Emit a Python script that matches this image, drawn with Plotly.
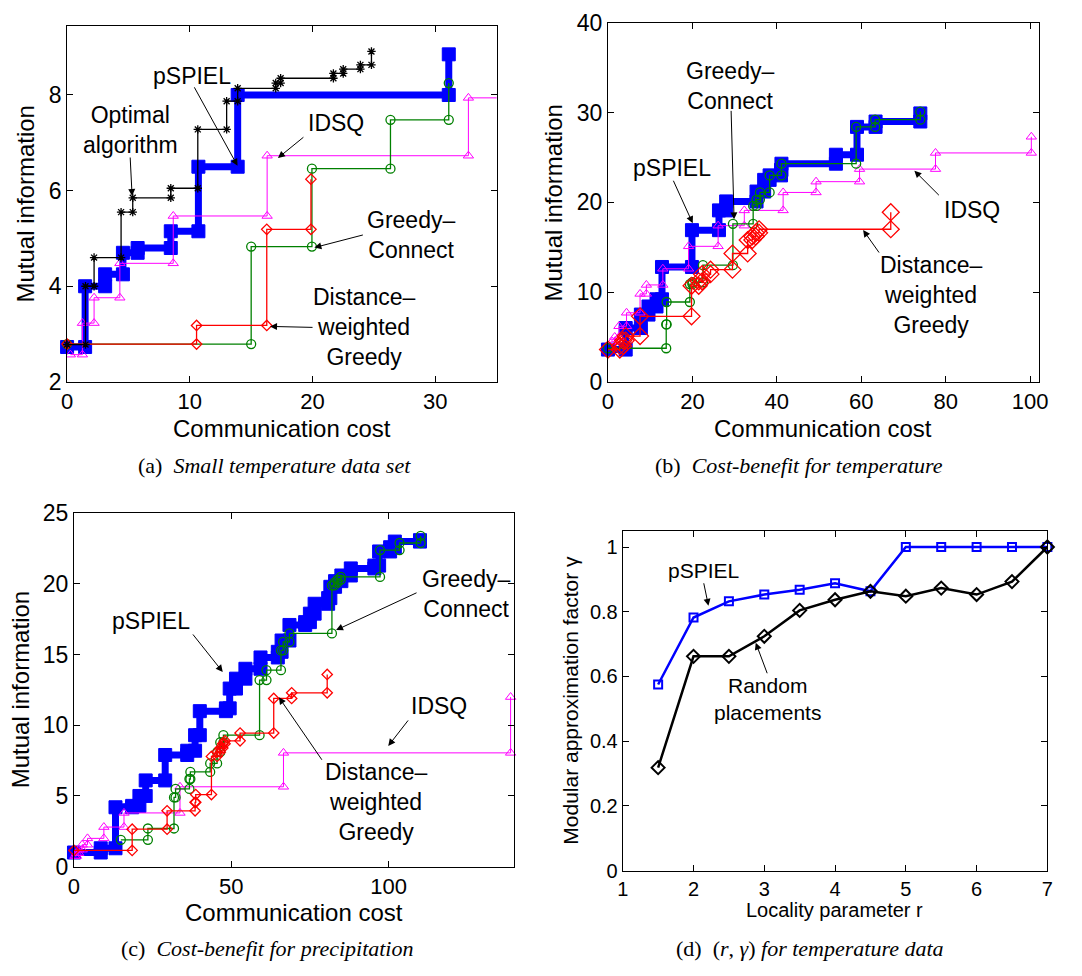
import plotly.graph_objects as go

W, H = 1082, 976

# ---------------- Panel (a): small temperature data set ----------------
a_opt_cost = [0, 1.5, 2.2, 4.4, 5.35, 8.45, 10.65, 13.0, 13.9, 17.0, 17.4, 21.7, 22.5, 23.9, 24.8]
a_opt_mi = [2.78, 4.0, 4.6, 5.55, 5.85, 6.05, 7.28, 7.87, 8.14, 8.25, 8.35, 8.45, 8.54, 8.63, 8.91]
a_psp_cost = [0, 1.47, 3.1, 4.55, 5.75, 8.45, 10.7, 13.9, 31.1]
a_psp_mi = [2.73, 4.0, 4.25, 4.7, 4.8, 5.15, 6.5, 8.0, 8.85]
a_idsq_cost = [0.27, 1.25, 2.2, 4.3, 8.65, 16.3, 32.7, 37.5]
a_idsq_mi = [2.57, 3.23, 3.76, 4.48, 5.47, 6.73, 7.94, 8.4]
a_gc_cost = [0, 15.0, 19.95, 26.35, 31.1]
a_gc_mi = [2.79, 4.83, 6.46, 7.48, 8.25]
a_dw_cost = [0, 10.55, 16.27, 19.87]
a_dw_mi = [2.79, 3.18, 5.19, 6.24]

# ---------------- Panel (b): cost-benefit for temperature ----------------
b_psp_cost = [0, 4.2, 7.8, 9.6, 11.5, 12.8, 19.9, 26.3, 28.0, 35.2, 37.0, 38.3, 41.0, 41.1, 54.0, 59.0, 63.4, 74.0]
b_psp_mi = [3.6, 6.0, 7.5, 8.4, 9.2, 12.8, 16.9, 19.1, 20.1, 21.2, 22.5, 23.0, 23.6, 24.3, 25.3, 28.4, 29.0, 29.9]
b_gc_cost = [0, 13.8, 13.9, 19.4, 20.0, 22.5, 29.6, 34.4, 35.2, 36.0, 38.3, 41.1, 58.8, 63.3, 74.0]
b_gc_mi = [3.75, 6.4, 8.9, 10.9, 11.1, 13.0, 17.6, 19.6, 20.3, 21.1, 23.0, 24.3, 28.4, 29.2, 30.1]
b_idsq_cost = [1.0, 1.6, 2.6, 4.4, 7.6, 9.1, 13.0, 19.1, 26.1, 32.3, 41.5, 49.3, 59.6, 77.6, 100.3]
b_idsq_mi = [4.5, 5.0, 6.2, 7.7, 9.8, 10.8, 12.6, 15.1, 17.4, 19.1, 21.1, 22.3, 23.7, 25.5, 27.3]
b_dw_cost = [0, 2.8, 3.6, 4.2, 7.6, 19.8, 21.5, 22.3, 24.3, 29.5, 33.1, 34.2, 35.0, 35.8, 67.0]
b_dw_mi = [3.6, 4.0, 4.6, 5.1, 7.3, 10.7, 11.2, 12.0, 12.5, 14.3, 15.8, 16.2, 16.6, 17.0, 18.9]

# ---------------- Panel (c): cost-benefit for precipitation ----------------
c_psp_cost = [0, 8.5, 13.2, 18.5, 20.8, 22.8, 29.0, 36.0, 38.5, 40.0, 48.3, 49.5, 51.5, 54.5, 59.3,
              64.8, 66.0, 68.5, 73.5, 75.0, 76.5, 80.8, 81.5, 83.0, 85.0, 88.0, 95.5, 97.0, 100.5, 102.0, 110.0]
c_psp_mi = [1.0, 1.3, 4.2, 4.3, 5.0, 6.1, 7.9, 8.2, 9.3, 11.0, 11.2, 12.6, 13.3, 14.0, 14.8,
            15.2, 16.0, 17.1, 17.3, 17.9, 18.6, 19.0, 19.8, 20.2, 20.6, 21.1, 21.3, 22.3, 22.6, 23.0, 23.1]
c_gc_cost = [14.9, 23.5, 31.8, 32.3, 36.7, 37.0, 43.3, 45.5, 46.5, 47.5, 59.0, 61.2, 65.8, 66.5, 68.5,
             82.0, 82.8, 83.8, 84.8, 97.3, 103.5, 110.2]
c_gc_mi = [1.9, 2.7, 4.9, 5.5, 6.2, 6.7, 7.3, 8.1, 8.8, 9.3, 13.2, 13.9, 15.3, 15.9, 16.5,
           19.9, 20.1, 20.3, 20.5, 22.4, 22.9, 23.4]
c_idsq_cost = [0.3, 0.8, 1.5, 2.6, 4.3, 9.5, 15.9, 33.7, 66.6, 138.8]
c_idsq_mi = [0.75, 0.95, 1.2, 1.55, 2.0, 2.8, 3.8, 5.65, 8.05, 12.0]
c_dw_cost = [0, 18.5, 29.6, 38.5, 38.7, 43.7, 45.5, 46.5, 47.3, 48.0, 52.8, 63.5, 69.2, 80.5]
c_dw_mi = [1.15, 2.65, 3.95, 4.55, 5.1, 7.8, 8.1, 8.4, 8.7, 8.9, 9.45, 11.9, 12.3, 13.6]

# ---------------- Panel (d): (r, gamma) ----------------
d_r = [1.5, 2, 2.5, 3, 3.5, 4, 4.5, 5, 5.5, 6, 6.5, 7]
d_pspiel = [0.575, 0.782, 0.832, 0.853, 0.868, 0.888, 0.863, 1.0, 1.0, 1.0, 1.0, 1.0]
d_random = [0.318, 0.662, 0.662, 0.724, 0.804, 0.837, 0.863, 0.848, 0.873, 0.853, 0.893, 1.0]

BLUE = "rgb(0,0,255)"
MAG = "rgb(255,0,255)"
GREEN = "rgb(0,128,0)"
RED = "rgb(255,0,0)"
SANS = "Liberation Sans"
SERIF = "Liberation Serif"


def stairs(cost, mi):
    xs, ys = [cost[0]], [mi[0]]
    for i in range(1, len(cost)):
        xs += [cost[i], cost[i]]
        ys += [mi[i - 1], mi[i]]
    return xs, ys


fig = go.Figure()


def add_stairs(cost, mi, ax, color, lw, symbol, msize, mlw, clip=False):
    xs, ys = stairs(cost, mi)
    fig.add_trace(go.Scatter(
        x=xs, y=ys, mode="lines+markers", xaxis="x" + ax, yaxis="y" + ax,
        line=dict(color=color, width=lw),
        marker=dict(symbol=symbol, size=msize, color=color,
                    line=dict(color=color, width=mlw)),
        cliponaxis=clip, showlegend=False, hoverinfo="skip"))


# panel a
add_stairs(a_psp_cost, a_psp_mi, "", BLUE, 7, "square", 13, 1)
add_stairs(a_idsq_cost, a_idsq_mi, "", MAG, 1, "triangle-up-open", 9, 1, clip=True)
add_stairs(a_gc_cost, a_gc_mi, "", GREEN, 1.3, "circle-open", 9, 1.3)
add_stairs(a_dw_cost, a_dw_mi, "", RED, 1.3, "diamond-open", 8, 1.3)
add_stairs(a_opt_cost, a_opt_mi, "", "black", 1.3, "asterisk-open", 7, 1.3)
# panel b
add_stairs(b_psp_cost, b_psp_mi, "2", BLUE, 7, "square", 13, 1)
add_stairs(b_idsq_cost, b_idsq_mi, "2", MAG, 1, "triangle-up-open", 9, 1)
add_stairs(b_gc_cost, b_gc_mi, "2", GREEN, 1.3, "circle-open", 9, 1.3)
add_stairs(b_dw_cost, b_dw_mi, "2", RED, 1.3, "diamond-open", 13, 1.3)
# panel c
add_stairs(c_psp_cost, c_psp_mi, "3", BLUE, 7, "square", 13, 1)
add_stairs(c_idsq_cost, c_idsq_mi, "3", MAG, 1, "triangle-up-open", 9, 1)
add_stairs(c_gc_cost, c_gc_mi, "3", GREEN, 1.3, "circle-open", 9, 1.3)
add_stairs(c_dw_cost, c_dw_mi, "3", RED, 1.3, "diamond-open", 8, 1.3)
# panel d
fig.add_trace(go.Scatter(x=d_r, y=d_pspiel, mode="lines+markers", xaxis="x4", yaxis="y4",
                         line=dict(color=BLUE, width=2.5),
                         marker=dict(symbol="square-open", size=8, color=BLUE, line=dict(width=2)),
                         cliponaxis=False, showlegend=False))
fig.add_trace(go.Scatter(x=d_r, y=d_random, mode="lines+markers", xaxis="x4", yaxis="y4",
                         line=dict(color="black", width=2.5),
                         marker=dict(symbol="diamond-open", size=10, color="black", line=dict(width=2)),
                         cliponaxis=False, showlegend=False))


def xdom(l, r):
    return [l / W, r / W]


def ydom(t, b):
    return [1 - b / H, 1 - t / H]


def axis(domain, rng, tickvals, anchor, fs, ticktext=None):
    d = dict(domain=domain, range=rng, tickvals=tickvals, ticks="inside", ticklen=6,
             tickwidth=1, tickcolor="black", showline=True, linecolor="black", linewidth=1,
             mirror="allticks", showgrid=False, zeroline=False, anchor=anchor,
             tickfont=dict(family=SANS, size=fs, color="black"))
    if ticktext is not None:
        d["ticktext"] = ticktext
    return d


fig.update_layout(
    width=W, height=H, margin=dict(l=0, r=0, t=0, b=0),
    paper_bgcolor="white", plot_bgcolor="white", showlegend=False,
    xaxis=axis(xdom(62, 498), [0, 35], [0, 10, 20, 30], "y", 22),
    yaxis=axis(ydom(13, 379), [2, 9.45], [2, 4, 6, 8], "x", 23),
    xaxis2=axis(xdom(611, 1048), [0, 102], [0, 20, 40, 60, 80, 100], "y2", 22),
    yaxis2=axis(ydom(10, 379), [0, 40], [0, 10, 20, 30, 40], "x2", 23),
    xaxis3=axis(xdom(69, 516), [0, 140], [0, 50, 100], "y3", 22),
    yaxis3=axis(ydom(514, 877), [0, 25], [0, 5, 10, 15, 20, 25], "x3", 23),
    xaxis4=axis(xdom(626, 1057), [1, 7], [1, 2, 3, 4, 5, 6, 7], "y4", 20),
    yaxis4=axis(ydom(532, 881), [0, 1.05], [0, 0.2, 0.4, 0.6, 0.8, 1.0], "x4", 20,
                ["0", "0.2", "0.4", "0.6", "0.8", "1"]),
)

ann = []


def txt(px, py, s, size, family=SANS, angle=0):
    ann.append(dict(x=px / W, y=1 - py / H, xref="paper", yref="paper", text=s,
                    showarrow=False, xanchor="center", yanchor="middle", textangle=angle,
                    font=dict(family=family, size=size, color="black")))


def arrow(tx, ty, hx, hy):
    ann.append(dict(x=hx / W, y=1 - hy / H, xref="paper", yref="paper", text="",
                    showarrow=True, ax=tx - hx, ay=ty - hy, axref="pixel", ayref="pixel",
                    arrowhead=2, arrowsize=1.4, arrowwidth=1, arrowcolor="black"))


# axis titles
txt(280, 427, "Communication cost", 24)
txt(20, 196, "Mutual information", 24, angle=-90)
txt(829, 427, "Communication cost", 24)
txt(556, 195, "Mutual information", 24, angle=-90)
txt(292, 924, "Communication cost", 24)
txt(15, 695, "Mutual information", 24, angle=-90)
txt(841, 922, "Locality parameter r", 20)
txt(573, 706, "Modular approximation factor γ", 21, angle=-90)

# captions
txt(273, 465, "(a)  <i>Small temperature data set</i>", 22, SERIF)
txt(805, 465, "(b)  <i>Cost-benefit for temperature</i>", 22, SERIF)
txt(265, 961, "(c)  <i>Cost-benefit for precipitation</i>", 22, SERIF)
txt(816, 961, "(d)  (<i>r</i>, <i>γ</i>) <i>for temperature data</i>", 22, SERIF)

# panel a labels
txt(189, 65, "pSPIEL", 23)
arrow(191, 77, 235, 157)
txt(126, 120, "Optimal<br>algorithm", 23)
arrow(126, 148, 128, 188)
txt(335, 113, "IDSQ", 23)
arrow(303, 127, 276, 149)
txt(411, 228, "Greedy–<br>Connect", 23)
arrow(363, 228, 313, 241)
txt(363, 323, "Distance–<br>weighted<br>Greedy", 23)
arrow(312, 323, 268, 322)

# panel b labels
txt(735, 75, "Greedy–<br>Connect", 23)
arrow(736, 102, 739, 212)
txt(676, 159, "pSPIEL", 23)
arrow(677, 172, 697, 216)
txt(980, 202, "IDSQ", 23)
arrow(948, 188, 922, 162)
txt(939, 290, "Distance–<br>weighted<br>Greedy", 23)
arrow(887, 247, 870, 223)

# panel c labels
txt(147, 625, "pSPIEL", 23)
arrow(189, 638, 220, 677)
txt(467, 597, "Greedy–<br>Connect", 23)
arrow(417, 596, 335, 634)
txt(440, 712, "IDSQ", 23)
arrow(409, 726, 388, 753)
txt(376, 811, "Distance–<br>weighted<br>Greedy", 23)
arrow(321, 767, 277, 703)

# panel d labels
txt(708, 573, "pSPIEL", 21)
arrow(708, 585, 713, 609)
txt(773, 705, "Random<br>placements", 21)
arrow(773, 679, 761, 647)

fig.update_layout(annotations=ann)

fig.write_html("out.html", config={"displayModeBar": False},
               post_script="document.body.style.margin='0';")
